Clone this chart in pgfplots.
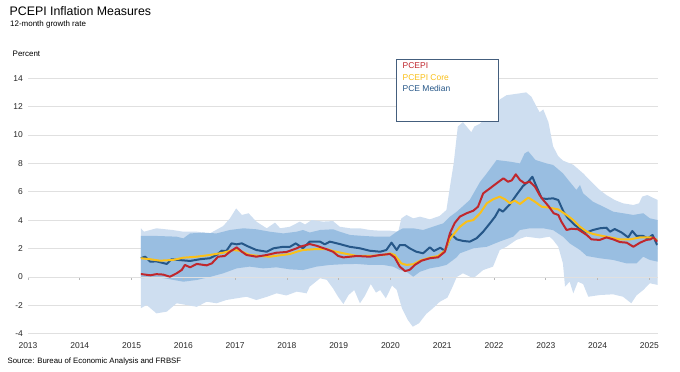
\documentclass[border=0pt]{standalone}
\usepackage{fontspec}
\setmainfont{Liberation Sans}
\usepackage{pgfplots}
\pgfplotsset{compat=1.18}
\usepgfplotslibrary{fillbetween}
\definecolor{bandlight}{RGB}{206,222,240}
\definecolor{bandmid}{RGB}{153,190,225}
\definecolor{pcered}{RGB}{192,39,45}
\definecolor{pcegold}{RGB}{250,192,25}
\definecolor{pceblue}{RGB}{38,87,136}
\definecolor{gridgray}{RGB}{224,224,224}
\definecolor{legborder}{RGB}{68,94,125}
\pgfplotsset{common/.style={scale only axis, width=629.7bp, height=255.6bp,
  xmin=2013, xmax=2025.16, ymin=-4, ymax=14, at={(28bp,38.2bp)}, anchor=south west}}
\begin{document}
\begin{tikzpicture}
\path (0,0) rectangle (680bp,372bp);
% tick marks on the zero line
\begin{axis}[common, axis x line=middle, axis y line=none,
  xtick={2013,...,2025}, xticklabels={}, ytick=\empty,
  x axis line style={-, draw=gridgray, line width=0.7bp},
  xtick style={draw=gray!55, line width=0.6bp, yshift=-1.5bp},
  major tick length=3bp, tick align=center]
\addplot[draw=none] coordinates {(2014,0) (2015,0)};
\end{axis}
\begin{axis}[common, axis line style={draw=none}, major tick length=0pt,
  ymajorgrids, grid style={draw=gridgray, line width=0.7bp},
  ytick={-4,-2,...,14}, xtick={2013,...,2025},
  tick label style={font=\fontsize{8.5}{10}\selectfont, text=black!85,
    /pgf/number format/assume math mode=true, /pgf/number format/1000 sep={}},
  xticklabel style={inner sep=0pt, anchor=north, yshift=-8.5bp},
  yticklabel style={inner sep=0pt, anchor=east, xshift=-5bp}]
% outer band
\addplot[draw=none, name path=ou] coordinates {
(2015.18,3.43) (2015.24,3.19) (2015.48,3.43) (2015.79,3.31) (2016.0,3.19) (2016.26,3.19)
(2016.51,3.07) (2016.77,3.59) (2016.90,4.13) (2017.02,4.83) (2017.13,4.37) (2017.26,4.49)
(2017.41,3.9) (2017.61,3.43) (2017.77,3.83) (2017.87,3.43) (2018.06,3.54) (2018.25,3.9)
(2018.35,3.7) (2018.48,4.01) (2018.70,3.9) (2018.89,3.94) (2019.02,3.54) (2019.22,3.43)
(2019.41,3.43) (2019.60,3.31) (2019.80,3.26) (2019.99,3.26) (2020.15,3.19) (2020.21,4.13)
(2020.31,4.37) (2020.44,4.13) (2020.57,4.25) (2020.76,4.06) (2020.95,4.3) (2021.08,4.72)
(2021.15,6.4) (2021.22,8.0) (2021.30,10.6) (2021.40,10.9) (2021.56,10.2) (2021.62,10.6)
(2021.73,10.8) (2021.86,11.3) (2021.98,11.8) (2022.11,12.5) (2022.24,12.8) (2022.43,12.9)
(2022.62,13.0) (2022.72,12.7) (2022.82,12.0) (2022.88,11.6) (2022.95,11.8) (2023.05,10.9)
(2023.14,9.2) (2023.24,8.5) (2023.33,8.2) (2023.53,7.9) (2023.72,7.3) (2023.88,6.7)
(2024.04,6.13) (2024.17,5.77) (2024.33,5.42) (2024.49,5.19) (2024.69,5.07) (2024.80,5.19)
(2024.86,5.66) (2024.96,5.77) (2025.16,5.42)};
\addplot[draw=none, name path=ol] coordinates {
(2015.18,-2.2) (2015.29,-1.97) (2015.48,-2.56) (2015.68,-2.44) (2015.87,-1.85) (2016.06,-1.97)
(2016.26,-2.1) (2016.45,-1.74) (2016.64,-1.85) (2016.83,-1.62) (2017.03,-1.5) (2017.22,-1.39)
(2017.41,-1.62) (2017.61,-1.4) (2017.80,-1.15) (2017.99,-1.3) (2018.19,-1.03) (2018.38,-1.15)
(2018.44,-0.68) (2018.64,-0.09) (2018.77,-0.2) (2018.89,-0.8) (2018.99,-1.4) (2019.09,-1.9)
(2019.19,-1.27) (2019.30,-0.92) (2019.41,-1.85) (2019.51,-1.3) (2019.62,-0.5) (2019.72,-1.1)
(2019.80,-0.92) (2019.91,-1.5) (2020.03,-0.6) (2020.12,-0.9) (2020.22,-2.2) (2020.33,-3.0)
(2020.43,-3.5) (2020.55,-3.26) (2020.69,-2.6) (2020.82,-2.2) (2020.95,-1.75) (2021.10,-1.45)
(2021.20,-0.68) (2021.28,0.0) (2021.40,0.26) (2021.60,-0.09) (2021.79,0.49) (2021.98,0.73)
(2022.11,1.9) (2022.24,2.13) (2022.43,2.61) (2022.62,2.84) (2022.88,2.72) (2023.07,2.84)
(2023.14,2.61) (2023.24,2.13) (2023.33,0.96) (2023.37,-0.68) (2023.46,-0.33) (2023.53,-1.15)
(2023.62,-0.33) (2023.72,-0.5) (2023.82,-1.39) (2024.04,-1.27) (2024.30,-1.22) (2024.49,-1.39)
(2024.65,-1.85) (2024.75,-1.3) (2024.88,-0.92) (2025.01,-0.44) (2025.16,-0.56)};
\addplot[fill=bandlight, draw=none] fill between[of=ou and ol];
% inner band
\addplot[draw=none, name path=iu] coordinates {
(2015.18,2.89) (2015.48,2.89) (2015.87,2.84) (2016.0,2.72) (2016.13,3.07) (2016.39,3.12)
(2016.64,3.07) (2016.90,3.31) (2017.16,3.43) (2017.41,3.36) (2017.67,3.19) (2017.93,3.07)
(2018.19,3.19) (2018.31,3.31) (2018.44,3.13) (2018.64,3.31) (2018.89,3.36) (2019.02,3.19)
(2019.22,2.96) (2019.48,2.89) (2019.73,2.84) (2019.99,2.84) (2020.12,3.19) (2020.24,3.43)
(2020.44,3.43) (2020.63,3.31) (2020.82,3.54) (2021.02,3.78) (2021.15,4.25) (2021.28,4.6)
(2021.53,5.42) (2021.73,6.7) (2021.86,7.3) (2022.05,8.24) (2022.31,8.12) (2022.50,8.0)
(2022.59,8.7) (2022.66,8.85) (2022.80,8.24) (2023.01,8.0) (2023.14,7.89) (2023.33,7.3)
(2023.46,6.71) (2023.59,6.13) (2023.66,6.48) (2023.72,5.89) (2023.91,5.3) (2024.11,4.95)
(2024.30,4.6) (2024.49,4.49) (2024.69,4.37) (2024.88,4.49) (2025.01,4.13) (2025.16,4.01)};
\addplot[draw=none, name path=il] coordinates {
(2015.18,-0.09) (2015.48,0.0) (2015.74,-0.16) (2016.0,-0.33) (2016.26,-0.21) (2016.51,0.0)
(2016.77,0.26) (2017.03,0.61) (2017.28,0.73) (2017.54,0.61) (2017.80,0.68) (2018.06,0.54)
(2018.31,0.49) (2018.57,0.73) (2018.83,0.85) (2019.09,0.9) (2019.35,0.92) (2019.60,0.85)
(2019.86,0.85) (2020.05,0.73) (2020.18,0.49) (2020.31,0.37) (2020.44,0.02) (2020.57,0.37)
(2020.76,0.61) (2020.95,0.73) (2021.08,0.85) (2021.21,1.2) (2021.28,1.4) (2021.34,1.67)
(2021.60,2.02) (2021.86,2.13) (2022.11,2.5) (2022.37,2.84) (2022.50,3.31) (2022.69,3.43)
(2022.95,3.43) (2023.14,3.3) (2023.33,2.84) (2023.46,2.37) (2023.66,1.9) (2023.79,1.48)
(2024.04,1.32) (2024.30,1.2) (2024.56,0.96) (2024.75,0.96) (2024.88,1.43) (2025.01,1.2)
(2025.16,1.08)};
\addplot[fill=bandmid, draw=none] fill between[of=iu and il];
% PCE Median
\addplot[pceblue, line width=2bp, line join=round] coordinates {
(2015.18,1.32) (2015.26,1.43) (2015.36,1.08) (2015.48,1.1) (2015.68,0.92) (2015.77,1.25)
(2015.90,1.2) (2016.13,1.13) (2016.32,1.25) (2016.51,1.32) (2016.64,1.55) (2016.74,1.85)
(2016.83,1.83) (2016.93,2.37) (2017.03,2.3) (2017.13,2.37) (2017.22,2.2) (2017.41,1.9)
(2017.61,1.78) (2017.74,2.02) (2017.93,2.13) (2018.06,2.13) (2018.17,2.37) (2018.31,2.02)
(2018.44,2.49) (2018.64,2.49) (2018.73,2.3) (2018.83,2.49) (2019.02,2.32) (2019.21,2.13)
(2019.41,2.02) (2019.60,1.85) (2019.80,1.78) (2019.92,1.9) (2020.02,2.42) (2020.12,1.9)
(2020.18,2.25) (2020.28,2.25) (2020.37,2.02) (2020.50,1.78) (2020.63,1.67) (2020.76,2.09)
(2020.84,1.83) (2020.96,2.06) (2021.05,1.85) (2021.18,3.0) (2021.28,2.65) (2021.40,2.54)
(2021.53,2.49) (2021.66,2.72) (2021.79,3.19) (2021.92,3.78) (2022.02,4.25) (2022.10,4.77)
(2022.17,4.6) (2022.31,5.14) (2022.43,5.77) (2022.56,6.41) (2022.66,6.71) (2022.74,7.06)
(2022.82,6.36) (2022.92,5.54) (2023.01,5.5) (2023.14,5.54) (2023.24,5.42) (2023.34,4.6)
(2023.43,4.13) (2023.56,3.66) (2023.69,3.31) (2023.79,3.14) (2023.91,3.31) (2024.04,3.43)
(2024.17,3.47) (2024.24,3.19) (2024.33,3.38) (2024.46,3.14) (2024.59,2.79) (2024.67,3.24)
(2024.75,2.89) (2024.88,2.89) (2024.97,2.72) (2025.06,2.96) (2025.15,2.25)};
% PCEPI Core
\addplot[pcegold, line width=2bp, line join=round] coordinates {
(2015.18,1.32) (2015.36,1.25) (2015.55,1.15) (2015.80,1.2) (2016.0,1.36) (2016.26,1.43)
(2016.51,1.55) (2016.77,1.71) (2016.96,1.9) (2017.09,1.85) (2017.28,1.55) (2017.48,1.48)
(2017.67,1.43) (2017.87,1.53) (2018.06,1.62) (2018.19,1.78) (2018.31,1.9) (2018.57,1.97)
(2018.77,1.97) (2018.89,1.83) (2019.09,1.67) (2019.35,1.48) (2019.60,1.48) (2019.86,1.55)
(2019.99,1.67) (2020.08,1.55) (2020.21,0.96) (2020.31,0.85) (2020.44,0.9) (2020.57,1.15)
(2020.76,1.36) (2020.92,1.48) (2021.05,1.85) (2021.15,2.7) (2021.24,3.1) (2021.34,3.54)
(2021.47,3.9) (2021.60,4.01) (2021.73,4.49) (2021.86,5.19) (2021.98,5.47) (2022.11,5.66)
(2022.21,5.47) (2022.31,5.19) (2022.40,5.38) (2022.50,5.14) (2022.66,5.59) (2022.79,5.3)
(2022.92,4.95) (2023.07,4.88) (2023.14,4.83) (2023.24,4.76) (2023.40,4.37) (2023.53,4.01)
(2023.66,3.54) (2023.79,3.19) (2023.91,3.03) (2024.04,2.93) (2024.24,2.79) (2024.43,2.65)
(2024.63,2.65) (2024.82,2.79) (2025.03,2.79) (2025.15,2.61)};
% PCEPI
\addplot[pcered, line width=2bp, line join=round] coordinates {
(2015.18,0.21) (2015.36,0.12) (2015.48,0.20) (2015.61,0.17) (2015.74,0.02) (2015.87,0.26)
(2015.97,0.50) (2016.03,0.85) (2016.13,0.68) (2016.26,0.92) (2016.45,0.82) (2016.55,0.96)
(2016.67,1.43) (2016.80,1.48) (2016.90,1.78) (2017.03,2.09) (2017.13,1.78) (2017.22,1.55)
(2017.41,1.43) (2017.61,1.55) (2017.80,1.71) (2017.99,1.76) (2018.19,2.02) (2018.25,2.13)
(2018.44,2.32) (2018.57,2.2) (2018.77,1.95) (2018.89,1.78) (2018.99,1.48) (2019.09,1.38)
(2019.35,1.48) (2019.60,1.43) (2019.80,1.55) (2019.99,1.62) (2020.08,1.38) (2020.18,0.73)
(2020.28,0.42) (2020.37,0.5) (2020.47,0.85) (2020.60,1.15) (2020.76,1.32) (2020.92,1.39)
(2021.05,1.78) (2021.15,3.1) (2021.24,3.8) (2021.34,4.25) (2021.47,4.49) (2021.60,4.67)
(2021.69,4.95) (2021.79,5.89) (2021.92,6.24) (2022.05,6.6) (2022.18,6.95) (2022.27,6.71)
(2022.34,6.8) (2022.42,7.23) (2022.50,6.83) (2022.59,6.6) (2022.69,6.71) (2022.79,6.36)
(2022.88,5.77) (2022.95,5.42) (2023.05,5.0) (2023.15,4.49) (2023.24,4.37) (2023.30,3.9)
(2023.40,3.31) (2023.50,3.4) (2023.62,3.36) (2023.79,2.96) (2023.88,2.65) (2024.04,2.61)
(2024.17,2.79) (2024.30,2.65) (2024.43,2.46) (2024.56,2.42) (2024.69,2.13) (2024.82,2.42)
(2024.94,2.61) (2025.02,2.65) (2025.08,2.79) (2025.15,2.49)};
\end{axis}
% legend
\draw[legborder, line width=0.9bp, fill=white] (396.7bp,251bp) rectangle (498.3bp,313bp);
\node[anchor=base west, inner sep=0pt, font=\fontsize{8.5}{10}\selectfont, text=pcered] at (402.5bp,303bp) {PCEPI};
\node[anchor=base west, inner sep=0pt, font=\fontsize{8.5}{10}\selectfont, text=pcegold] at (402.5bp,291.8bp) {PCEPI Core};
\node[anchor=base west, inner sep=0pt, font=\fontsize{8.5}{10}\selectfont, text=pceblue] at (402.5bp,280.5bp) {PCE Median};
% titles
\node[anchor=base west, inner sep=0pt, font=\fontsize{12.4}{14}\selectfont] at (9.5bp,356bp) {PCEPI Inflation Measures};
\node[anchor=base west, inner sep=0pt, font=\fontsize{8}{10}\selectfont] at (10bp,345.8bp) {12-month growth rate};
\node[anchor=base west, inner sep=0pt, font=\fontsize{8}{10}\selectfont] at (12.5bp,315bp) {Percent};
\node[anchor=base west, inner sep=0pt, font=\fontsize{7.8}{10}\selectfont] at (7.5bp,8.5bp) {Source: Bureau of Economic Analysis and FRBSF};
\end{tikzpicture}
\end{document}
